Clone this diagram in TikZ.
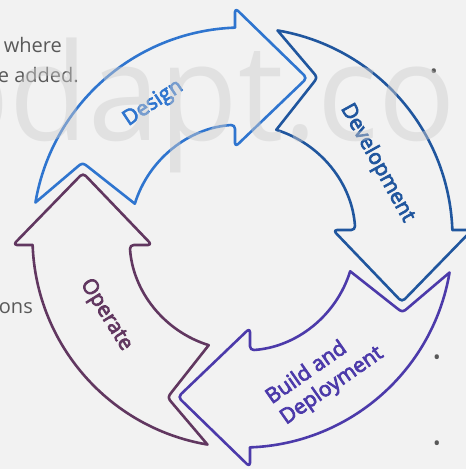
\documentclass[tikz,border=0pt]{standalone}
\usepackage{fontspec}
\setmainfont{Open Sans}
\newfontfamily\labelfont[FakeBold=3.5]{Open Sans}
\usepackage{tikz}
\definecolor{bg}{HTML}{F2F2F2}
\definecolor{textgray}{HTML}{595959}
\definecolor{wmgray}{RGB}{205,205,205}
\definecolor{designblue}{HTML}{2F75CF}
\definecolor{devblue}{HTML}{20569E}
\definecolor{buildpurple}{HTML}{4C3AAA}
\definecolor{operateplum}{HTML}{613760}
\tikzstyle{ringarrow}=[line width=2.6pt,line join=round]
\tikzstyle{arrowtext}=[font=\labelfont\fontsize{21}{25}\selectfont,inner sep=0pt]
\tikzstyle{slidetext}=[font=\fontsize{20}{24}\selectfont,text=textgray,inner sep=0pt]
\tikzstyle{watermark}=[font=\fontsize{135}{135}\selectfont,text=wmgray,text opacity=0.45,inner sep=0pt]

% one quarter of the ring, tail notch at the left, head pointing right
\newcommand{\cyclearrow}[2]{%
  \draw[ringarrow,draw=#2,rotate=#1]
    (-7.5,209.9) [rounded corners=4pt] -- (-7.5,229.5) -- (64.5,159.5)
    -- (-7.5,90.5) -- (-7.5,112.75) [sharp corners]
    arc[start angle=93.8,end angle=162.7,radius=112.75]
    -- (-153.7,70.1) .. controls (-160,75) .. (-166.1,69.8)
    -- (170.4:210) arc[start angle=170.4,end angle=92.05,radius=210] -- cycle;}

\begin{document}
\begin{tikzpicture}[x=1pt,y=1pt]

	\useasboundingbox (-242.5,-231.5) rectangle (223.5,237.5);
	\fill[bg] (-242.5,-231.5) rectangle (223.5,237.5);
	\clip (-242.5,-231.5) rectangle (223.5,237.5);

	%slide text behind
	\node[slidetext,anchor=base east] (where) at (-180.5,184.5) {where};
	\node[slidetext,anchor=base east] (added) at (-163.5,154.5) {e added.};
	\node[slidetext,anchor=base east] (ons) at (-209.5,-75.5) {ons};
	\node[slidetext] (bul1) at (191.5,163.5) {•};
	\node[slidetext] (bul2) at (194.5,-122.5) {•};
	\node[slidetext] (bul3) at (194.5,-208.5) {•};

	%arrows
	\cyclearrow{0}{designblue}
	\cyclearrow{-90}{devblue}
	\cyclearrow{-180}{buildpurple}
	\cyclearrow{-270}{operateplum}

	%labels
	\node[arrowtext,text=designblue,rotate=33.6] (design) at (123.6:161) {Design};
	\node[arrowtext,text=devblue,rotate=-61] (development) at (28.9:154) {Development};
	\node[arrowtext,text=buildpurple,rotate=35,align=left] (build)
		at (-59.2:161) {Build and\\Deployment};
	\node[arrowtext,text=operateplum,rotate=-58] (operate) at (209.6:157) {Operate};

	%watermark
	\node[watermark,anchor=base west,xscale=0.95] (wm) at (-310.5,97.5) {odapt.com};
\end{tikzpicture}
\end{document}
